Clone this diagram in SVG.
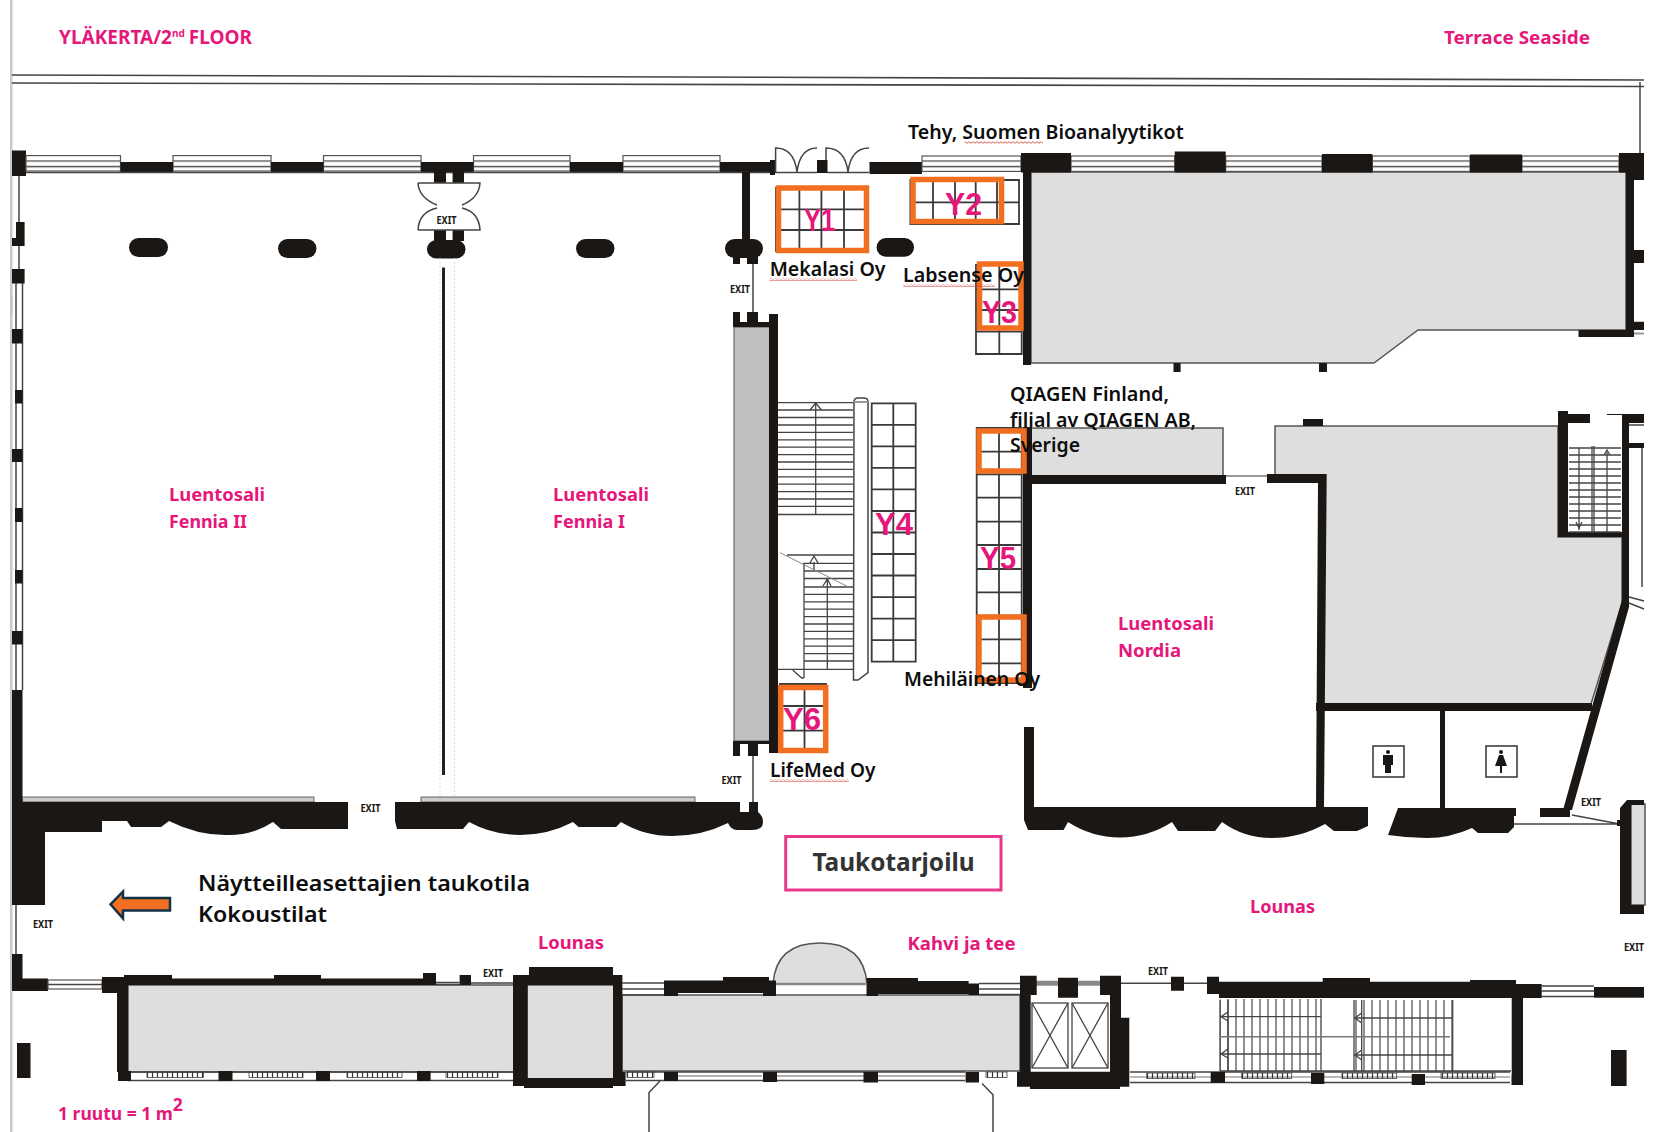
<svg xmlns="http://www.w3.org/2000/svg" width="1671" height="1132" viewBox="0 0 1671 1132">
<style>
text{font-family:"Noto Sans","Liberation Sans",sans-serif}
.k{fill:#1a1714}
.g{fill:#dedede;stroke:#555;stroke-width:1.5}
.w{fill:url(#win);stroke:#555;stroke-width:1.2}
.t{fill:none;stroke:#444;stroke-width:1.3}
.l{fill:none;stroke:#444;stroke-width:1.5}
.grid{fill:none;stroke:#3a3a3a;stroke-width:1.8}
.o{fill:none;stroke:#f26f21;stroke-width:5.5}
.h{fill:url(#hatch);stroke:#444;stroke-width:.8}
.p{fill:#e5177b;font-weight:700;font-size:18.5px}
.y{fill:#e5177b;font-weight:700;font-size:32px;font-family:"Liberation Sans",sans-serif}
.b{fill:#0d0d0d;font-weight:600;font-size:19px}
.x{fill:#1a1714;font-weight:700;font-size:11px;font-family:"Liberation Sans",sans-serif}
.sq{fill:url(#wave)}
</style>
<defs>
<pattern id="win" patternUnits="userSpaceOnUse" width="10" height="15.4" y="155.6"><path d="M0 5.4H10M0 11H10" stroke="#444" stroke-width="1.4"/></pattern>
<pattern id="hatch" patternUnits="userSpaceOnUse" width="5" height="6"><path d="M2.500 0V6" stroke="#333" stroke-width="1.200"/></pattern>
<pattern id="tread" patternUnits="userSpaceOnUse" width="8" height="8"><path d="M4 0V8" stroke="#444" stroke-width="1.2"/></pattern>
<pattern id="wave" patternUnits="userSpaceOnUse" width="4" height="3"><path d="M0 1.5Q1 0 2 1.5T4 1.5" fill="none" stroke="#d8362a" stroke-width=".8"/></pattern>
</defs>
<rect width="1671" height="1132" fill="#fff"/>
<rect x="10" width="2.500" height="1132" fill="#c9c9c9"/>

<path d="M12 75L1644 80M12 83L1644 86.5" fill="none" stroke="#444" stroke-width="1.6"/>
<path d="M1640 82V155" class="l"/>

<!-- grey rooms -->
<path class="g" d="M1031 172H1626V330H1418L1374 363H1031Z"/>
<rect class="g" x="1031" y="428" width="192" height="48"/>
<path class="g" d="M1275 426H1558V537H1622V603L1591 704H1322V476H1275Z"/>
<rect x="734" y="327" width="36" height="414" fill="#bfbfbf" stroke="#555"/>
<rect class="g" x="128" y="985" width="386" height="87"/>
<rect class="g" x="527" y="985" width="87" height="94"/>
<rect class="g" x="622" y="995" width="398" height="76"/>
<path class="g" d="M773 984Q776 943 820 943Q864 943 867 984Z"/>
<rect class="g" x="1631" y="804" width="14" height="101"/>

<!-- top wall, left -->
<rect class="k" x="12" y="150.5" width="14" height="25.5"/>
<g class="w"><rect x="26" y="155.6" width="94.5" height="15.4"/><rect x="173" y="155.6" width="98" height="15.4"/><rect x="323.5" y="155.6" width="97.5" height="15.4"/><rect x="473.5" y="155.6" width="96.5" height="15.4"/><rect x="623" y="155.6" width="97" height="15.4"/></g>
<path class="k" d="M120.5 162H173V172H120.5ZM271 162H323.5V172H271ZM421 162H473.5V172H421ZM570 162H623V172H570ZM720 162H770V160H775V175H770V172H720Z"/>
<path d="M26 172.500H770" class="l"/>
<!-- double doors top -->
<g class="l"><path d="M775.6 172V148Q794 148 797 172M817 148Q800 148 797 172M826 172V148Q845 148 848 172M869 148Q851 148 848 172M775 172.500H817M827 172.500H869"/></g>
<rect class="k" x="817" y="160" width="10.500" height="13"/>
<rect class="k" x="869.500" y="162" width="52.500" height="12"/>
<!-- top wall, right -->
<g class="w"><rect x="922" y="156" width="99" height="15.400"/><rect x="1071" y="156" width="103.700" height="15.400"/><rect x="1225.700" y="156" width="96.300" height="15.400"/><rect x="1372.400" y="156" width="97.600" height="15.400"/><rect x="1522" y="156" width="97" height="15.400"/></g>
<path class="k" d="M1021 153H1071V172.500H1021ZM1174.700 151.500H1225.700V172.500H1174.700ZM1322 154H1372.400V172.500H1322ZM1470 154.500H1522V172.500H1470ZM1619 153H1644V180H1629V172.500H1619Z"/>
<!-- right wing walls -->
<path class="k" d="M1023 172H1031V365H1023ZM1626 172H1634V250H1644V263H1634V321.700H1644V330H1634V337H1578.500V330H1626ZM1173.500 363H1180.600V372H1173.500ZM1319 363H1327V372H1319Z"/>
<path d="M1634 333.500H1644" stroke="#999" stroke-width="2"/>

<!-- centre exit doors and columns -->
<path class="k" d="M434 171H446V183H434ZM452.600 171H464V183H452.600ZM434 230H446V241H434ZM452.600 230H464V241H452.600Z"/>
<path class="l" d="M418 183H480Q479 198 462 205M418 183Q419 198 437 205M418 230H480Q479 212 462 208M418 230Q419 212 437 208"/>
<rect class="k" x="427" y="240" width="38.500" height="18.500" rx="9.300"/>
<rect class="k" x="129" y="238" width="39" height="19" rx="9.500"/>
<rect class="k" x="278" y="239" width="38.500" height="19" rx="9.500"/>
<rect class="k" x="576" y="239" width="38.500" height="19" rx="9.500"/>
<rect class="k" x="876.600" y="238" width="37.400" height="18.700" rx="9.300"/>
<rect class="k" x="742" y="172" width="8" height="70"/>
<rect class="k" x="725" y="239" width="38" height="19" rx="9.500"/>
<path class="k" d="M733 255H740V264H733ZM747 255H758V264H747Z"/>
<path class="l" d="M753 264V312M753 756V803M19 176V222M19 246V269M16 905V954"/>

<!-- partition -->
<path d="M440 258V797M454.500 258V797" stroke="#ddd" stroke-dasharray="2 2" fill="none"/>
<path d="M443.500 267.500V775" stroke="#222" stroke-width="3"/>

<!-- grey room wall with castellations -->
<path class="k" d="M733 312H740V322H747V312H758V322H769V314H778V753H769V741H733V756H740V744H748V756H758V744H769V327H733Z"/>

<!-- left wall -->
<path class="l" d="M16 283V690M22.500 283V690"/>
<path class="k" d="M16 222H24.600V246H12V238H16ZM12 269H24.600V283.500H12ZM12 329H22.500V343.500H12ZM15 390H22.500V403.500H15ZM12 449H22.500V462H12ZM15 508H22.500V522H15ZM15 570H22.500V583.600H15ZM12 631H22.500V644.500H12ZM12 690H22.500V799H12Z"/>
<path d="M12 295V315" stroke="#bbb"/>

<!-- Fennia south wall -->
<rect x="22.500" y="797" width="291.500" height="5" fill="#ccc" stroke="#444" stroke-width=".8"/>
<rect x="421" y="797" width="274" height="5" fill="#ccc" stroke="#444" stroke-width=".8"/>
<path class="k" d="M12 799H22.500V802H348V829H281L273 822Q252 836 225 835Q197 835 169 821L161 827H131L127 821H102V832H45V905H12Z"/>
<path class="k" d="M395 802H740V812H749V802H758V812Q763 816 763 822Q763 830 752 830H737Q731 830 728 823Q702 836 672 836Q644 836 621 822L616 827H578.500L573 822Q548 835 520 835Q493 835 469 822L463 829H397L395 821Z"/>
<!-- corner -->
<path class="k" d="M12 954H22.500V978.600H48V991H12Z"/>
<rect class="w" x="48" y="980" width="54" height="9" style="fill:#fff"/>
<path class="l" d="M48 984.500H102"/>

<!-- Nordia walls -->
<path class="k" d="M1023 427H1032V475H1226V484H1032V688H1023ZM1024 727H1034V807H1024ZM1267 474H1326.700L1324 807H1316L1318 483H1267Z"/>
<rect x="1226" y="475" width="41" height="2" fill="#999"/>
<path class="k" d="M1024 807H1368V826L1357 831H1334L1325 824Q1300 838 1271.500 838Q1244 838 1222 822L1215 831H1178L1172 822Q1148 837.500 1120 837.500Q1092 837.500 1068 822L1063.600 830H1028L1024 820Z"/>
<path class="k" d="M1303 419H1323V426H1303Z"/>
<path class="k" d="M1316 703H1592V711H1316Z"/>
<path class="k" d="M1440 708H1445V810H1440Z"/>
<path class="k" d="M1398 808H1516V816H1514V827L1508 833H1478L1472 828Q1450 838 1427 838Q1408 838 1388 835Z"/>
<path class="k" d="M1540 808H1570V817H1540ZM1622 600H1629V607L1572 810H1563Z"/>
<path class="l" d="M1514 824H1617M1572 815L1617 823.500"/>
<path class="k" d="M1627 800H1644V805H1631V905H1644V914H1620V826H1617V820H1620V808Z"/>

<!-- upper right stair block -->
<path class="k" d="M1558 411H1568V414H1590V423H1568V532H1622V415H1607V414H1644V423H1629V443H1644V448H1629V600H1622V537H1558Z"/>
<path class="l" d="M1642 448V587M1629 597L1644 601M1629 603L1644 609M1629 425H1644"/>
<rect x="1568" y="448" width="54" height="84" fill="#fff"/>
<path class="t" d="M1569 448H1621M1569 455H1621M1569 462H1621M1569 469H1621M1569 476H1621M1569 483H1621M1569 490H1621M1569 497H1621M1569 504H1621M1569 511H1621M1569 518H1621M1569 525H1621M1569 532H1621M1579 448V530M1592 446V532M1594 446V532M1607 452V532"/>
<path class="t" d="M1576 522L1579 528L1582 522M1604 455L1607 450L1610 455"/>

<!-- restrooms -->
<rect x="1373" y="746" width="31" height="31" fill="#fff" stroke="#333" stroke-width="1.500"/>
<rect x="1486" y="746" width="31" height="31" fill="#fff" stroke="#333" stroke-width="1.500"/>
<circle class="k" cx="1388" cy="752" r="2"/>
<path class="k" d="M1383 755H1393V765H1391V773H1385V765H1383Z"/>
<circle class="k" cx="1501" cy="752" r="2"/>
<path class="k" d="M1499 755H1503L1507 766H1502V773H1500V766H1495Z"/>

<!-- bottom building -->
<path class="k" d="M102 977H124V975H172V978.600H274V975H321V978.600H423V973H436V985H128V1072H117V993H102Z"/>
<path class="k" d="M459.600 975H471V985H459.600Z"/>
<path class="l" d="M436 982.500H459.600M436 984.600H459.600M471 983H513"/>
<path class="k" d="M513 975H529V967H613V975H622.400V1072H625.600V1086H613V1088H524V1086H513ZM527.600 985V1078H613V985Z" fill-rule="evenodd"/>
<path class="l" d="M622 983H664M622 989H664M622 995H664"/>
<path class="k" d="M664 980.500H723V977H769V980.500H776V996H763V993H678V996H664Z"/>
<path class="k" d="M866.500 978H918V981H968.600V983.500H979V995H968.600V994H878V996H866.500Z"/>
<path class="l" d="M979 983.500H1020M979 989H1020M979 994.500H1020"/>
<path d="M776 984H867" stroke="#888" stroke-width="2.500"/>

<!-- south strip -->
<path class="l" d="M128 1072H513M128 1080.500H513M626 1072H965M626 1080.500H965"/>
<path d="M678 1076H762M777 1076H864M878 1076H965" stroke="#666" stroke-width="1"/>
<rect class="h" x="147" y="1072" width="56.500" height="5.500"/><rect class="h" x="249" y="1072" width="54" height="5.500"/><rect class="h" x="347" y="1072" width="55" height="5.500"/><rect class="h" x="446" y="1072" width="52" height="5.500"/><rect class="h" x="627" y="1072" width="27" height="5.500"/><rect class="h" x="986" y="1072" width="21" height="5.500"/>
<path class="k" d="M118 1071H131V1081H118ZM218.500 1071H232.500V1081H218.500ZM316 1071H330V1081H316ZM417 1071H430.600V1081H417ZM664 1072H678V1081H664ZM763 1072H777V1082H763ZM863.500 1072H878V1082.500H863.500ZM965.600 1072H979V1082.500H965.600Z"/>
<path class="l" d="M660 1081L649 1092.600V1132M982 1083.500L993 1094.700V1132"/>
<rect class="k" x="17" y="1043" width="13.500" height="35"/>
<rect class="k" x="1611" y="1050" width="15.600" height="36"/>

<!-- elevators -->
<path d="M1036 983.300H1100" stroke="#888" stroke-width="5"/>
<path class="k" d="M1020 975.700H1036.700V995H1030.700V1071.700H1110V995H1100V975.700H1121V1017.700H1129.300V1086.700H1120V1089H1030V1086.700H1017V1071.700H1020ZM1058 977.700H1078V997.700H1058Z"/>
<g class="t"><rect x="1032" y="1003" width="36" height="65"/><rect x="1072" y="1003" width="36" height="65"/><path d="M1032 1003L1068 1068M1068 1003L1032 1068M1072 1003L1108 1068M1108 1003L1072 1068"/></g>

<!-- south east wall -->
<path class="l" d="M1121 983.300H1171M1184 983.300H1207"/>
<path class="k" d="M1171 976.700H1184V990.700H1171ZM1207 976.700H1219V981.700H1322.700V978H1370V981.700H1470V980H1516V984H1541.700V998H1523V1085H1511.700V998H1219V994H1207Z"/>
<path class="l" d="M1541.700 986H1594M1541.700 991H1594M1541.700 996.500H1594"/>
<rect class="k" x="1594" y="987" width="50" height="10.700"/>

<!-- east stairs -->
<rect x="1220" y="999" width="101" height="72" fill="url(#tread)"/>
<rect x="1354" y="1000" width="98.700" height="72" fill="url(#tread)"/>
<path class="t" d="M1220 1000V1071M1228 1000V1071M1321 999V1071M1220 1016.700H1321M1220 1054H1321M1354 1000V1071M1361.700 1000V1071M1452.700 1000V1071M1354 1018H1452M1354 1055H1452M1220 1071H1511"/>
<path d="M1220 1036.700H1450" stroke="#777" stroke-width="1.500"/>
<path class="t" d="M1228 1012L1221 1016.700L1228 1021M1228 1049L1221 1054L1228 1058M1361.700 1013L1355 1018L1361.700 1023M1361.700 1050L1355 1055L1361.700 1060" fill="#fff"/>

<path class="l" d="M1130 1072H1510M1130 1082.500H1510"/>
<path d="M1130 1077H1510" stroke="#777"/>
<rect class="h" x="1146.700" y="1073" width="48.300" height="5.500"/><rect class="h" x="1241.700" y="1073" width="50" height="5.500"/><rect class="h" x="1342" y="1073" width="54.700" height="5.500"/><rect class="h" x="1441" y="1073" width="54" height="5.500"/>
<path class="k" d="M1210.700 1072H1225V1082.700H1210.700ZM1311 1073H1324.300V1084H1311ZM1411.700 1074H1425V1085H1411.700ZM1511.700 1075H1523V1085H1511.700Z"/>

<!-- central stair -->
<path class="t" d="M778 402.700H853M778 410H853M778 417.500H853M778 425H853M778 432.400H853M778 439.800H853M778 447.200H853M778 454.600H853M778 462H853M778 469.400H853M778 476.800H853M778 484.200H853M778 491.600H853M778 499H853M778 506.400H853M778 514.500H853M815.700 404V514.500M810 410L815.700 403L821.500 410"/>
<path class="t" d="M787 555H853M803 563.300H853M804 571H853M804 578.500H853M804 587H853M804 594.400H853M804 601.800H853M804 609.200H853M804 616.600H853M804 624H853M804 631.400H853M804 638.800H853M804 646.200H853M804 653.600H853M804 661H853M778 669.300H853M804 563V678M827.300 579V669M823 586L827.300 579L831 586M814 570V562M810 563L814 556L818 563M792.700 670L801.700 678H804"/>
<path d="M780 552.700L848 586.700" stroke="#888" fill="none"/>
<path class="l" d="M854 402Q854 398 858 398H864Q868 398 868 402V672.700L858 680H853.500V672.700Z" fill="#fff"/>
<path d="M854 402H868" stroke="#999" stroke-width="2"/>

<!-- stand grids -->
<path class="grid" d="M871.700 403.300H915.700V661.700H871.700ZM893.300 403.300V661.700M871.700 424.800H915.700M871.700 446.400H915.700M871.700 467.900H915.700M871.700 489.400H915.700M871.700 511H915.700M871.700 532.500H915.700M871.700 554H915.700M871.700 575.500H915.700M871.700 597.100H915.700M871.700 618.600H915.700M871.700 640.100H915.700"/>
<path class="grid" d="M976.700 428H1021.700V683H976.700ZM999 428V683M976.700 451.700H1021.700M976.700 474.300H1021.700M976.700 497.700H1021.700M976.700 521.700H1021.700M976.700 545H1021.700M976.700 569H1021.700M976.700 592.300H1021.700M976.700 615.700H1021.700M976.700 639.300H1021.700M976.700 663.300H1021.700"/>
<path class="grid" d="M976 265H1021.700V354H976ZM999.300 265V354M976 289.300H1021.700M976 310H1021.700M976 331.700H1021.700"/>
<path class="grid" d="M910.400 180H1019V224H910.400ZM933 180V224M955 180V224M975.700 180V224M997 180V224M910.400 202.300H1019"/>
<path class="grid" d="M776 188H867V251H776ZM799.400 188V251M821.400 188V251M844 188V251M776 209.300H867M776 230H867"/>
<path class="grid" d="M780 684H826V752H780ZM804.500 684V752M780 706H826M780 730.600H826"/>

<!-- pink stand labels -->
<text class="y" x="804" y="231" textLength="31" lengthAdjust="spacingAndGlyphs">Y1</text>
<text class="y" x="945" y="215" textLength="37" lengthAdjust="spacingAndGlyphs">Y2</text>
<text class="y" x="982" y="323" textLength="35" lengthAdjust="spacingAndGlyphs">Y3</text>
<text class="y" x="875" y="535" textLength="38" lengthAdjust="spacingAndGlyphs">Y4</text>
<text class="y" x="980" y="569" textLength="36" lengthAdjust="spacingAndGlyphs">Y5</text>
<text class="y" x="783" y="730" textLength="38" lengthAdjust="spacingAndGlyphs">Y6</text>

<!-- orange stand outlines -->
<rect class="o" x="778.500" y="188" width="88" height="62.500"/>
<rect class="o" x="913" y="179.500" width="88.500" height="42"/>
<rect class="o" x="979.500" y="264" width="41.500" height="64"/>
<rect class="o" x="979" y="431" width="45" height="40"/>
<rect class="o" x="979" y="617" width="45" height="63"/>
<rect class="o" x="780.700" y="687.500" width="45" height="63"/>

<!-- exit marks -->
<g class="x">
<text x="436.500" y="223.500" textLength="20" lengthAdjust="spacingAndGlyphs">EXIT</text>
<text x="730" y="293" textLength="20" lengthAdjust="spacingAndGlyphs">EXIT</text>
<text x="360.500" y="811.500" textLength="20" lengthAdjust="spacingAndGlyphs">EXIT</text>
<text x="721.500" y="784" textLength="20" lengthAdjust="spacingAndGlyphs">EXIT</text>
<text x="33" y="928" textLength="20" lengthAdjust="spacingAndGlyphs">EXIT</text>
<text x="483" y="976.500" textLength="20" lengthAdjust="spacingAndGlyphs">EXIT</text>
<text x="1235" y="495" textLength="20" lengthAdjust="spacingAndGlyphs">EXIT</text>
<text x="1148" y="975" textLength="20" lengthAdjust="spacingAndGlyphs">EXIT</text>
<text x="1581" y="806" textLength="20" lengthAdjust="spacingAndGlyphs">EXIT</text>
<text x="1624" y="951" textLength="20" lengthAdjust="spacingAndGlyphs">EXIT</text>
</g>

<!-- pink room labels -->
<text class="p" x="59" y="44" style="font-size:19px">YLÄKERTA/2<tspan font-size="10" dy="-7">nd</tspan><tspan dy="7" dx="4">FLOOR</tspan></text>
<text class="p" x="1444" y="44" textLength="146" lengthAdjust="spacingAndGlyphs">Terrace Seaside</text>
<text class="p" x="169" y="501" textLength="96" lengthAdjust="spacingAndGlyphs">Luentosali</text>
<text class="p" x="169" y="528" textLength="78" lengthAdjust="spacingAndGlyphs">Fennia II</text>
<text class="p" x="553" y="501" textLength="96" lengthAdjust="spacingAndGlyphs">Luentosali</text>
<text class="p" x="553" y="528" textLength="72" lengthAdjust="spacingAndGlyphs">Fennia I</text>
<text class="p" x="1118" y="629.500" textLength="96" lengthAdjust="spacingAndGlyphs">Luentosali</text>
<text class="p" x="1118" y="657" textLength="63" lengthAdjust="spacingAndGlyphs">Nordia</text>
<text class="p" x="538" y="949" textLength="66" lengthAdjust="spacingAndGlyphs">Lounas</text>
<text class="p" x="907.500" y="950" textLength="108" lengthAdjust="spacingAndGlyphs">Kahvi ja tee</text>
<text class="p" x="1250" y="912.500" textLength="65" lengthAdjust="spacingAndGlyphs">Lounas</text>
<text class="p" x="58" y="1120" style="font-size:17.500px">1 ruutu = 1 m<tspan dy="-9">2</tspan></text>

<!-- exhibitor labels -->
<text class="b" x="908" y="139" textLength="275.600" lengthAdjust="spacingAndGlyphs">Tehy, Suomen Bioanalyytikot</text>
<rect class="sq" x="964.500" y="141" width="78.500" height="3"/>
<text class="b" x="769.700" y="275.700" textLength="115.800" lengthAdjust="spacingAndGlyphs">Mekalasi Oy</text>
<rect class="sq" x="769.700" y="278" width="87.300" height="3"/>
<text class="b" x="903" y="281.700" textLength="121" lengthAdjust="spacingAndGlyphs">Labsense Oy</text>
<rect class="sq" x="903" y="284" width="92" height="3"/>
<text class="b" x="1010" y="401" textLength="159" lengthAdjust="spacingAndGlyphs">QIAGEN Finland,</text>
<text class="b" x="1010" y="426.700" textLength="186" lengthAdjust="spacingAndGlyphs">filial av QIAGEN AB,</text>
<text class="b" x="1010" y="451.700" textLength="70" lengthAdjust="spacingAndGlyphs">Sverige</text>
<text class="b" x="904" y="686" textLength="136" lengthAdjust="spacingAndGlyphs">Mehiläinen Oy</text>
<text class="b" x="770" y="776.500" textLength="105.400" lengthAdjust="spacingAndGlyphs">LifeMed Oy</text>
<rect class="sq" x="770" y="779" width="78.700" height="3"/>

<!-- Taukotarjoilu -->
<rect x="785.700" y="836.500" width="215.300" height="53.500" fill="#fff" stroke="#e8388a" stroke-width="3"/>
<text x="812.400" y="871" textLength="162.200" lengthAdjust="spacingAndGlyphs" font-size="25" font-weight="700" fill="#333">Taukotarjoilu</text>

<!-- arrow and note -->
<path d="M110.500 904.400L123 891.500V898H170V910.500H123V918.400Z" fill="#f26f21" stroke="#12324a" stroke-width="2.500"/>
<text class="b" x="198" y="891" textLength="332" lengthAdjust="spacingAndGlyphs" style="font-size:22px">Näytteilleasettajien taukotila</text>
<text class="b" x="198" y="922" textLength="129" lengthAdjust="spacingAndGlyphs" style="font-size:22px">Kokoustilat</text>
</svg>
